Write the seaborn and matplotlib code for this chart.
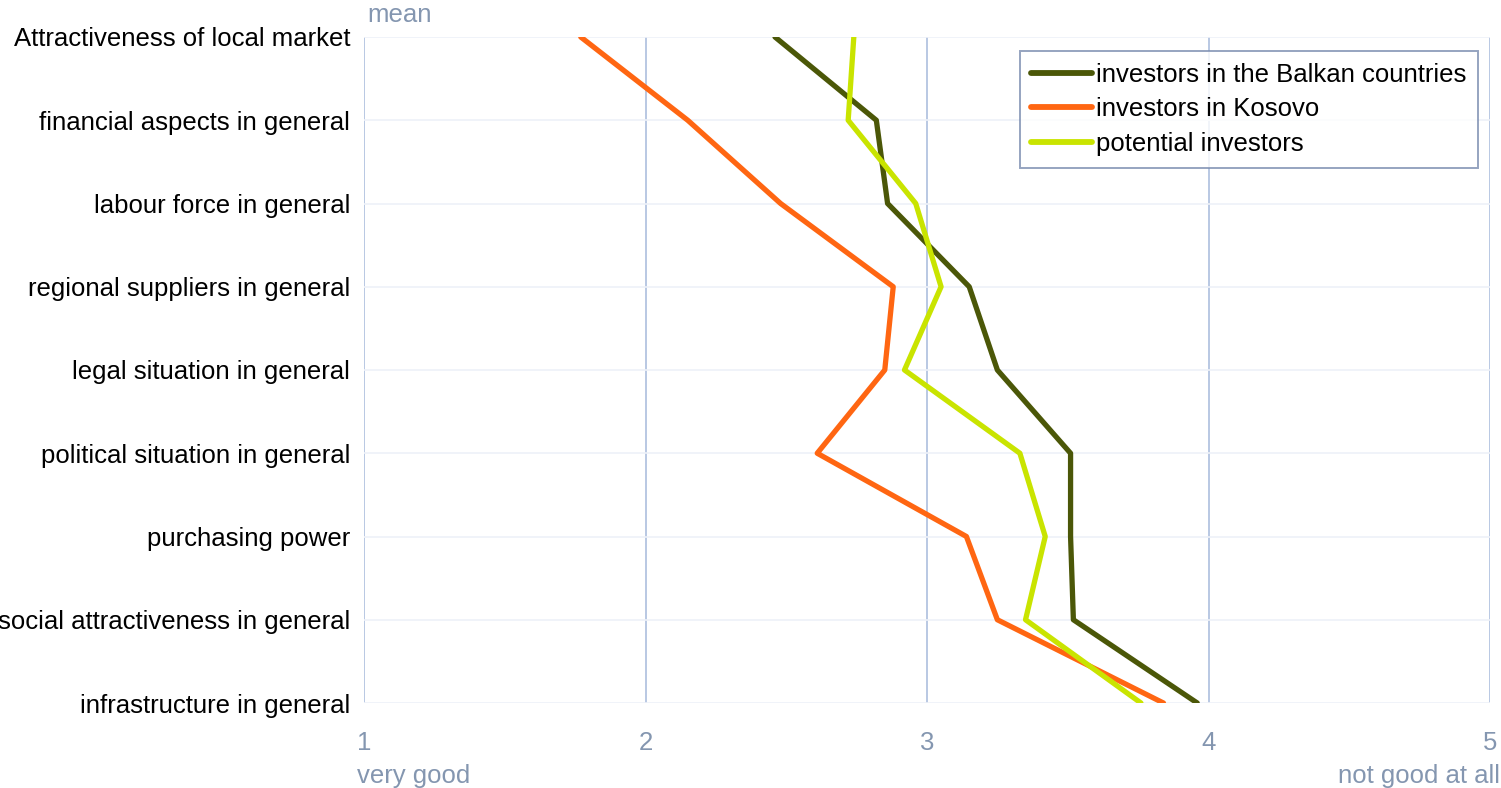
import numpy as np
import pandas as pd
import matplotlib
matplotlib.use("Agg")
import matplotlib.pyplot as plt
import seaborn as sns

# categories, top to bottom
categories = [
    "Attractiveness of local market",
    "financial aspects in general",
    "labour force in general",
    "regional suppliers in general",
    "legal situation in general",
    "political situation in general",
    "purchasing power",
    "social attractiveness in general",
    "infrastructure in general",
]

balkan = [2.46, 2.82, 2.86, 3.15, 3.25, 3.51, 3.51, 3.52, 3.96]
kosovo = [1.77, 2.15, 2.48, 2.88, 2.85, 2.61, 3.14, 3.25, 3.84]
potential = [2.74, 2.72, 2.96, 3.05, 2.92, 3.33, 3.42, 3.35, 3.76]

series_names = ["investors in the Balkan countries", "investors in Kosovo", "potential investors"]
colors = ["#4b5708", "#ff6612", "#c9e400"]

x_ticks = [1, 2, 3, 4, 5]

FS = 18.5
AXCOL = "#8496b0"

sns.set_theme(style="white")
plt.rcParams["font.family"] = ["Liberation Sans", "DejaVu Sans"]
plt.rcParams["text.color"] = "black"

rows = []
for name, vals in zip(series_names, [balkan, kosovo, potential]):
    for i, v in enumerate(vals):
        rows.append({"series": name, "pos": i, "mean": v})
df = pd.DataFrame(rows)

fig = plt.figure(figsize=(15.01, 7.88), dpi=100)
ax = fig.add_axes([364 / 1501, 1 - 703 / 788, (1490 - 364) / 1501, (703 - 37) / 788])

sns.lineplot(data=df, x="mean", y="pos", hue="series", palette=colors,
             orient="y", estimator=None, sort=True, linewidth=3.8, ax=ax)

ax.set_xlim(1, 5)
ax.set_ylim(len(categories) - 1, 0)
ax.set_yticks(range(len(categories)))
ax.set_yticklabels(categories, fontsize=FS, color="black")
ax.set_xticks(x_ticks)
ax.set_xticklabels([str(t) for t in x_ticks], fontsize=FS, color=AXCOL)
ax.tick_params(axis="x", length=0, pad=20)
ax.tick_params(axis="y", length=0, pad=10)
ax.set_xlabel("")
ax.set_ylabel("")

# grid
for t in x_ticks:
    ax.axvline(t, color="#b3c4e0", lw=1.3, zorder=0)
for i in range(len(categories)):
    ax.axhline(i, color="#eef1f8", lw=1.2, zorder=0)
for s in ax.spines.values():
    s.set_visible(False)

ax.text(0.003, 1.015, "mean", transform=ax.transAxes, fontsize=FS,
        color=AXCOL, ha="left", va="bottom")
fig.text(357 / 1501, 1 - 776 / 788, "very good", fontsize=FS, color=AXCOL,
         ha="left", va="center")
fig.text(1500 / 1501, 1 - 776 / 788, "not good at all", fontsize=FS, color=AXCOL,
         ha="right", va="center")

leg = ax.legend(loc="upper right", bbox_to_anchor=(0.989, 0.979), fontsize=FS,
                frameon=True, fancybox=False, handlelength=2.35, handletextpad=0.15,
                borderpad=0.45, labelspacing=0.42, borderaxespad=0)
leg.get_frame().set_edgecolor("#7b8db0")
leg.get_frame().set_linewidth(1.4)
for line in leg.get_lines():
    line.set_linewidth(4.2)
    line.set_solid_capstyle("round")
for txt in leg.get_texts():
    txt.set_color("black")

fig.savefig("out.png", dpi=100)
